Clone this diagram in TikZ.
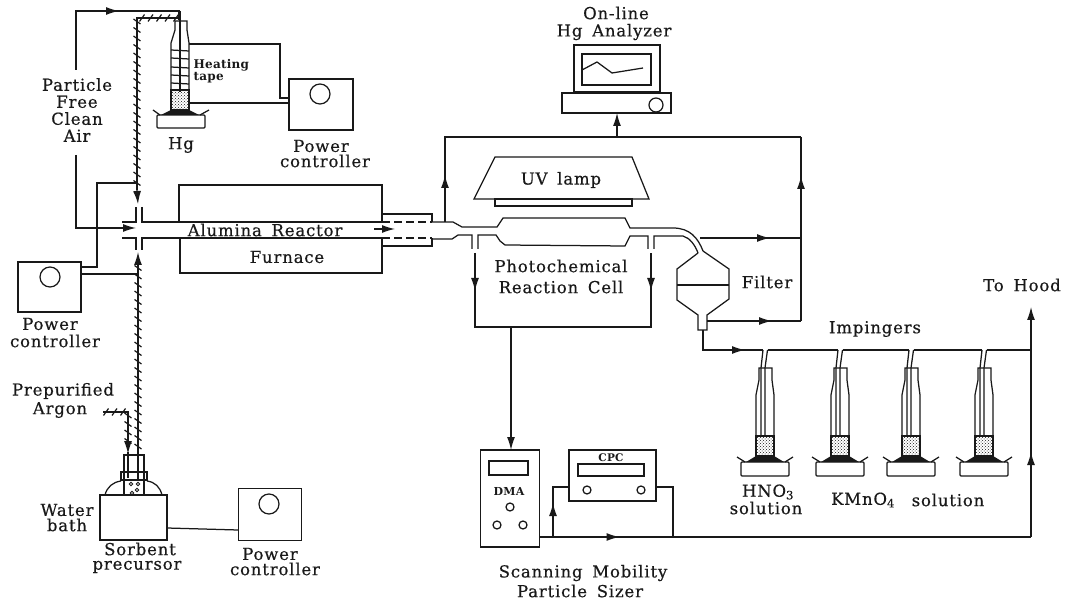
\documentclass[tikz,border=0pt]{standalone}
\usepackage{fontspec}
\setmainfont{DejaVu Serif}[LetterSpace=5,WordSpace=1.6,FakeBold=0.5]
\newfontfamily\smallbold{DejaVu Serif Bold}[LetterSpace=2]
\usetikzlibrary{arrows.meta,decorations.markings,patterns,calc}
\definecolor{ink}{gray}{0.1}
\tikzset{
  x=1pt,y=-1pt,
  every path/.style={line width=1.25pt,color=ink},
  every node/.style={color=ink,font=\fontsize{16.5}{17}\selectfont,align=center,inner sep=0pt},
  arr/.tip={Latex[length=13pt,width=8pt]},
  boxn/.style={draw,minimum width=#1,inner sep=0pt},
  dial/.style={draw,circle,minimum size=#1},
  midarr/.style={postaction={decorate},decoration={markings,mark=at position #1 with {\arrow{arr}}}},
  hatched/.style={line width=1.4pt,postaction={decorate},decoration={markings,mark=between positions 3pt and -1pt step 8.5pt with {\draw[line width=1.2pt] (-2.5,3.5)--(2.5,-3.5);}}},
  stipple/.style={pattern=crosshatch dots,pattern color=ink},
}
% impinger: #1 centre x, #2 name
\newcommand{\impinger}[2]{%
 \begin{scope}[shift={(#1,0)}]
  \coordinate (#2in) at (-2,350);
  \coordinate (#2out) at (2.5,350);
  \draw (#2in) -- (-4,368) -- (-4,436);
  \draw (#2out) -- (0,368) -- (0,436);
  \draw[stipple] (-9,436) rectangle (9,456);
  \draw (-9,456) -- (-9,395) -- (-6,380) -- (-6,368) -- (7,368) -- (7,380) -- (9,395) -- (9,456);
  \fill[ink] (-19,462) -- (-9,456) -- (9,456) -- (19,462) -- cycle;
  \draw (-28,457) -- (-20,462) (28,457) -- (20,462);
  \draw[rounded corners=1pt] (-24,462) rectangle (24,476);
 \end{scope}}
\begin{document}
\begin{tikzpicture}
\useasboundingbox (0,0) rectangle (1071,601);

% ---------- Hg source
\node[boxn=64pt,minimum height=51pt] (pcTop) at (321,104.5) {};
\node[dial=20pt] at (320,94) {};
\coordinate (hgTop) at (179,11);
\coordinate (hgWireA) at (189,44);
\coordinate (hgWireB) at (189,103);
\draw (180,11) -- (180,92);
\draw[stipple] (171,90) rectangle (189,110);
\draw (171,110) -- (171,43) -- (175,30) -- (175,21) -- (187,21) -- (187,30) -- (189,43) -- (189,110);
\foreach \yy in {50,58,67,75,83} \draw (171,\yy) -- (189,\yy+1);
\fill[ink] (161,115) -- (171,110) -- (189,110) -- (199,115) -- cycle;
\draw (153,110) -- (160,115) (209,110) -- (200,115);
\draw[rounded corners=1pt] (157,115) rectangle (205,128);
\draw (hgWireA) -| (280,98) -- (289,98);
\draw (hgWireB) -- (289,103);
\node[font=\fontsize{12}{12}\selectfont\smallbold,anchor=west] (tHeat) at (193,65) {Heating};
\node[font=\fontsize{12}{12}\selectfont\smallbold,anchor=west] (tTape) at (193,78) {tape};
\node (tHg) at (181,145) {Hg};
\node (tPc1) at (321,146) {Power};
\node (tPc2) at (325,161) {controller};

% ---------- Clean air
\node (tAir) at (77,110) {Particle\\Free\\Clean\\Air};
\coordinate (airIn) at (136,228);
\coordinate (airTop) at (76,70);
\coordinate (airBot) at (76,155);
\draw[midarr=102pt] (airTop) -- (76,11) -- (hgTop) -- (179,20);
\draw[-{arr}] (airBot) -- (76,228) -- (airIn);

% ---------- Hatched line from Hg
\coordinate (hgBack) at (179,18);
\coordinate (down1) at (137,190);
\draw[hatched] (hgBack) -- (137,18) -- (down1);
\coordinate (down2) at (138,204);
\draw[-{arr}] (down1) -- (down2);
\draw[-{arr}] (138,265) -- (138,252);
\draw[hatched] (138,265) -- (138,455);

% ---------- Left power controller
\node[boxn=63pt,minimum height=50pt] (pcLeft) at (49.5,287) {};
\node[dial=20pt] at (50,277) {};
\node (tPl1) at (50,324) {Power};
\node (tPl2) at (55,341) {controller};
\coordinate (tapeA) at (137,183);
\draw (tapeA) -- (97,183) -- (97,267) -- (81,267);
\draw (81,274) -- (138,274);

% ---------- Reactor
\draw (122,222) -- (136,222) -- (136,207);
\draw (142,207) -- (142,222) -- (382,222);
\draw (122,238) -- (136,238) -- (136,250);
\draw (142,250) -- (142,238) -- (382,238);
\draw (179,222) -- (179,185) -- (382,185) -- (382,222);
\draw (180,238) -- (180,273) -- (382,273) -- (382,238);
\draw (382,214) -- (432,214) -- (432,222);
\draw (382,246) -- (432,246) -- (432,238);
\draw[dashed,dash pattern=on 8pt off 4pt] (382,222) -- (432,222) (382,238) -- (432,238);
\node (tAl) at (265,230) {Alumina Reactor};
\node (tFu) at (287,257) {Furnace};
\draw[-{arr}] (374,229) -- (395,229);

% ---------- Tube and cell
\draw (432,222) -- (453,222) -- (462,227) -- (497,227) -- (503,218) -- (625,218) -- (630,228) -- (673,228)
   .. controls (690,228) and (698,238) .. (703,251);
\draw (432,239) -- (452,239) -- (458,235) -- (472,235) -- (472,249);
\draw (478,249) -- (478,235) -- (496,235) -- (500,241) -- (505,245) -- (625,246) -- (630,236) -- (648,236) -- (648,249);
\draw (654,249) -- (654,236) -- (683,236) .. controls (690,238) and (695,245) .. (698,253);
\coordinate (lampA) at (445,222);
\coordinate (loopL) at (445,137);
\coordinate (loopR) at (801,137);
\draw[midarr=47pt] (lampA) -- (loopL) -- (loopR);
\draw (loopR) -- (801,321);
\draw[{arr}-] (801,176) -- (801,190);
\draw[midarr=70pt] (700,238) -- (801,238);
\draw[midarr=65pt] (707,321) -- (801,321);

\draw (475,253) -- (475,327) -- (651,327) -- (651,253);
\draw[-{arr}] (475,260) -- (475,291);
\draw[-{arr}] (651,260) -- (651,291);
\node (tCell) at (561,266) {Photochemical};
\node (tCell2) at (561,287) {Reaction Cell};

% ---------- UV lamp
\node[boxn=137pt,minimum height=7pt] (lampBase) at (563.5,202.5) {};
\draw (474,199) -- (495,157) -- (632,157) -- (649,199) -- cycle;
\node (tUV) at (561,180) {UV lamp};

% ---------- Analyzer
\node (tOn) at (616,13) {On-line};
\node (tAn) at (614,32) {Hg Analyzer};
\node[boxn=86pt,minimum height=47pt] (mon) at (617,68.5) {};
\node[boxn=69pt,minimum height=31pt] (scr) at (616.5,69.5) {};
\draw (582,70) -- (597,62) -- (612,73) -- (643,68);
\node[boxn=109pt,minimum height=20pt] (base) at (616.5,103) {};
\node[dial=14pt] at (656,105) {};
\draw[-{arr}] (617,137) -- (617,113);

% ---------- Filter
\draw (698,253) -- (677,269) -- (677,300) -- (698,315) -- (698,330) -- (707,330) -- (707,315) -- (729,299) -- (729,269) -- (703,251);
\draw (677,285) -- (729,285);
\node (tFi) at (767,282) {Filter};

% ---------- Impingers
\impinger{765}{a}
\impinger{840}{b}
\impinger{911}{c}
\impinger{984}{d}
\coordinate (stem) at (703,330);
\coordinate (hood) at (1031,307);
\coordinate (hoodJ) at (1031,350);
\draw[midarr=62pt] (stem) -- (703,350) -- (ain);
\draw (aout) -- (bin);
\draw (bout) -- (cin);
\draw (cout) -- (din);
\draw (dout) -- (hoodJ);
\draw[-{arr}] (1031,537) -- (hood);
\draw[{arr}-] (1031,452) -- (1031,465);
\node (tImp) at (875,329) {Impingers};
\node (tHood) at (1022,285) {To Hood};
\node (tHN) at (768,492) {HNO\textsubscript{3}};
\node (tHN2) at (766,508) {solution};
\node (tKM) at (863,500) {KMnO\textsubscript{4}};
\node (tKM2) at (948,500) {solution};

% ---------- DMA / CPC
\node[boxn=59pt,minimum height=97pt] (dma) at (510,498.5) {};
\node[boxn=39pt,minimum height=14pt] at (508.5,468) {};
\node[font=\fontsize{11}{11}\selectfont\smallbold] at (509,491) {DMA};
\node[dial=8pt] at (510,507) {};
\node[dial=8pt] at (497,525) {};
\node[dial=8pt] at (523,525) {};
\node[boxn=87pt,minimum height=51pt] (cpc) at (612.5,475.5) {};
\node[boxn=66pt,minimum height=12pt] at (611,470) {};
\node[font=\fontsize{10.5}{11}\selectfont\smallbold] at (611,458) {CPC};
\node[dial=8pt] at (587,490) {};
\node[dial=8pt] at (641,490) {};
\draw[-{arr}] (511,327) -- (511,450);
\coordinate (jL) at (553,537);
\coordinate (jR) at (673,537);
\draw[midarr=80pt] (539.5,537) -- (1031,537);
\draw (jL) -- (553,487) -- (569,487);
\draw[{arr}-] (553,503) -- (553,517);
\draw (656,487) -- (673,487) -- (jR);
\node (tSc) at (583,573) {Scanning Mobility};
\node (tSc2) at (580,591) {Particle Sizer};

% ---------- Argon and water bath
\node[boxn=67pt,minimum height=45pt] (bath) at (133.5,517.5) {};
\draw (124,495) -- (124,455) -- (144,455) -- (144,495);
\draw (121,480) -- (121,472) -- (147,472) -- (147,480) -- cycle;
\draw (105,495) .. controls (107,487) and (113,482) .. (121,481);
\draw (147,481) .. controls (155,482) and (160,487) .. (162,495);
\draw[line width=.8pt] (131,484) circle (1.7) (138,484) circle (1.7) (137,490) circle (1.7) (132,493) circle (1.7);
\draw (128,452) -- (128,478);
\draw (138,455) -- (138,480);
\coordinate (arIn) at (103,412);
\draw[hatched] (arIn) -- (128,412) -- (128,446);
\draw[-{arr}] (128,441) -- (128,454);
\node (tPr) at (63,391) {Prepurified};
\node (tAr) at (60,410) {Argon};
\node (tWa) at (67,510) {Water};
\node (tBa) at (67,525) {bath};
\node (tSo) at (140,549) {Sorbent};
\node (tPc) at (137,567) {precursor};
\node[boxn=63pt,minimum height=52pt] (pcBot) at (270,514.5) {};
\node[dial=20pt] at (269,504) {};
\draw (167,528) -- (238,530);
\node (tPb1) at (270,554) {Power};
\node (tPb2) at (275,569) {controller};
\end{tikzpicture}
\end{document}
